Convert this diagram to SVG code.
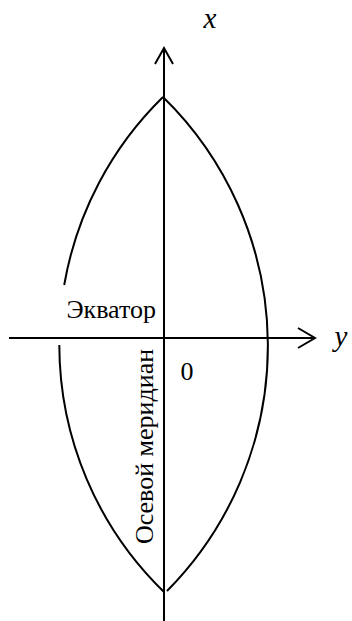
<svg xmlns="http://www.w3.org/2000/svg" width="352" height="621" viewBox="0 0 352 621">
<style>
.ln{fill:none;stroke:#000;stroke-width:2}
.i{font-style:italic}
</style>
<rect width="352" height="621" fill="#fff"/>
<g id="lens">
<path class="ln" d="M163,97 A345.3,345.3 0 0 0 64.2,285"/>
<path class="ln" d="M59.3,345 A345.3,345.3 0 0 0 164,592"/>
<path class="ln" d="M163,97 A348,348 0 0 1 167,591"/>
</g>
<g id="connectors">
<path class="ln" d="M164,621 V48"/>
<path class="ln" d="M155,64 L164,48 L173,64"/>
<path class="ln" d="M9,338 H314"/>
<path class="ln" d="M298,328 L315,338 L298,348"/>
</g>
<g id="labels" font-family="'Liberation Serif', 'Times New Roman', serif" fill="#000">
<text class="i" x="210" y="28" font-size="29" text-anchor="middle">x</text>
<text class="i" x="341" y="346" font-size="29" text-anchor="middle">y</text>
<text x="156" y="318" font-size="26" text-anchor="end">Экватор</text>
<text x="187" y="380" font-size="26" text-anchor="middle">0</text>
<text transform="translate(153,446.5) rotate(-90)" font-size="26" text-anchor="middle">Осевой меридиан</text>
</g>
</svg>
